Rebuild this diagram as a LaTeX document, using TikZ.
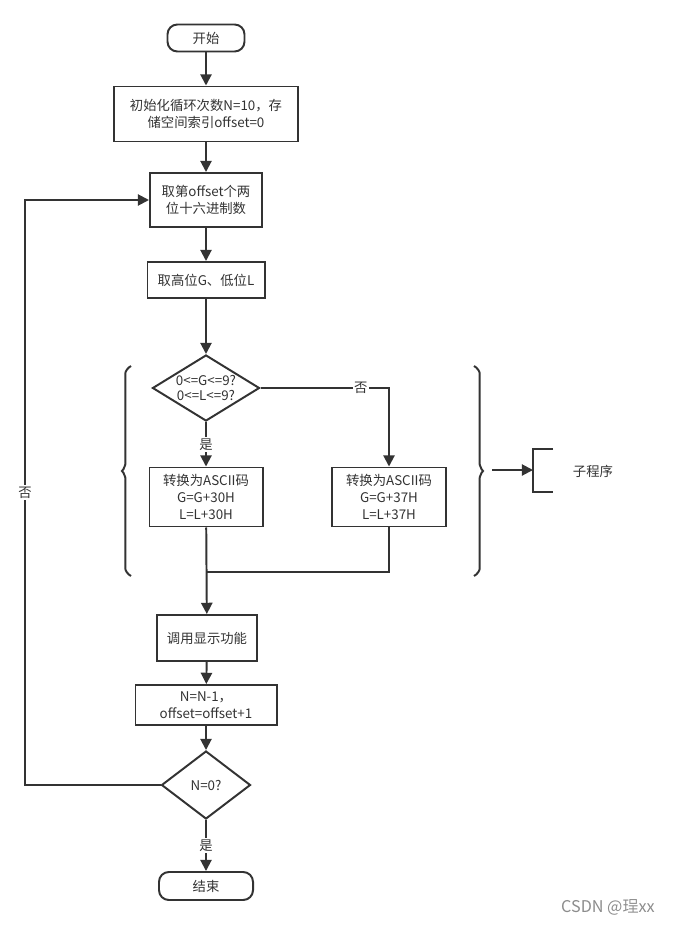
\documentclass[tikz,border=0pt]{standalone}
\usepackage{fontspec}
\setmainfont{Noto Sans CJK SC}
\usepackage{tikz}
\usetikzlibrary{positioning,shapes.geometric,arrows.meta,decorations.pathreplacing}

\begin{document}
\begin{tikzpicture}[x=0.025cm, y=-0.025cm,
    every node/.style={font=\fontsize{9.5}{12}\selectfont, text=black!80},
    term/.style={draw=black!80, line width=1.4pt, rounded corners=7pt,
      minimum width=1.925cm, minimum height=0.675cm, inner sep=1pt},
    box/.style={draw=black!80, line width=1.4pt, align=center,
      inner sep=1pt, minimum height=1.35cm},
    dec/.style={draw=black!80, line width=1.4pt, diamond, inner sep=0pt},
    lbl/.style={fill=white, inner sep=1pt},
    arrow/.style={-{Triangle[length=8pt,width=8pt]}, line width=1.4pt, draw=black!80},
    line/.style={line width=1.4pt, draw=black!80},
    brc/.style={line width=1.4pt, draw=black!80, rounded corners=3pt,
      decorate, decoration={brace, amplitude=8pt}}
  ]
    \useasboundingbox (0,0) rectangle (678,925);
    \node[term] (START) at (206,38) {开始};
    \node[box, minimum width=4.575cm, minimum height=1.375cm] (INIT) at (206,114)
      {初始化循环次数N=10，存\\储空间索引offset=0};
    \node[box, minimum width=2.8cm] (TAKE) at (206,200)
      {取第offset个两\\位十六进制数};
    \node[box, minimum width=2.925cm, minimum height=0.9cm] (SPLIT) at (206,280)
      {取高位G、低位L};
    \node[dec, minimum width=2.675cm, minimum height=1.65cm,
      label={[align=center, font=\fontsize{9.5}{11}\selectfont, text=black!80]center:0<=G<=9?\\0<=L<=9?}]
      (CHK) at (206,388) {};
    \node[box, minimum width=2.825cm, minimum height=1.475cm] (DIG) at (206,497)
      {转换为ASCII码\\G=G+30H\\L=L+30H};
    \node[box, minimum width=2.85cm, minimum height=1.475cm] (HEX) at (389,497)
      {转换为ASCII码\\G=G+37H\\L=L+37H};
    \coordinate (MRG) at (206,572);
    \node[box, minimum width=2.5cm, minimum height=1.15cm] (SHOW) at (207,638)
      {调用显示功能};
    \node[box, minimum width=3.525cm, minimum height=1.0cm] (NEXT) at (206,705)
      {N=N-1，\\offset=offset+1};
    \node[dec, minimum width=2.225cm, minimum height=1.7cm,
      label={[text=black!80]center:N=0?}] (DONE) at (206,785) {};
    \node[term, minimum width=2.35cm, minimum height=0.7cm] (END) at (206,886) {结束};
    \coordinate (LOOP) at (25,785);
    % subroutine braces
    \draw[brc] (131,576) -- (131,366);
    \draw[brc] (474,366) -- (474,576);
    \coordinate (BR) at (492,470);
    \coordinate (SUBT) at (533,492);
    \node (SUB) at (593,471) {子程序};
    \draw[line] (553,449) -- (533,449) -- (SUBT) -- (553,492);
    \draw[arrow] (BR) -- (533,470);
    % main flow
    \draw[arrow] (START) -- (INIT);
    \draw[arrow] (INIT) -- (TAKE);
    \draw[arrow] (TAKE) -- (SPLIT);
    \draw[arrow] (SPLIT) -- (CHK);
    \draw[arrow] (CHK) -- node[lbl] {是} (DIG);
    \draw[arrow] (CHK.east) -| node[lbl, pos=0.39] {否} (HEX.north);
    \draw[line] (HEX.south) |- (MRG);
    \draw[arrow] (DIG) -- (SHOW);
    \draw[arrow] (SHOW) -- (NEXT);
    \draw[arrow] (NEXT) -- (DONE);
    \draw[arrow] (DONE) -- node[lbl] {是} (END);
    \draw[arrow] (DONE.west) -- (LOOP) |- node[lbl, pos=0.25] {否} (TAKE.west);
    \node[text=black!45, font=\fontsize{11.5}{13}\selectfont] (MARK) at (608,907) {CSDN @珵xx};
  \end{tikzpicture}
\end{document}
